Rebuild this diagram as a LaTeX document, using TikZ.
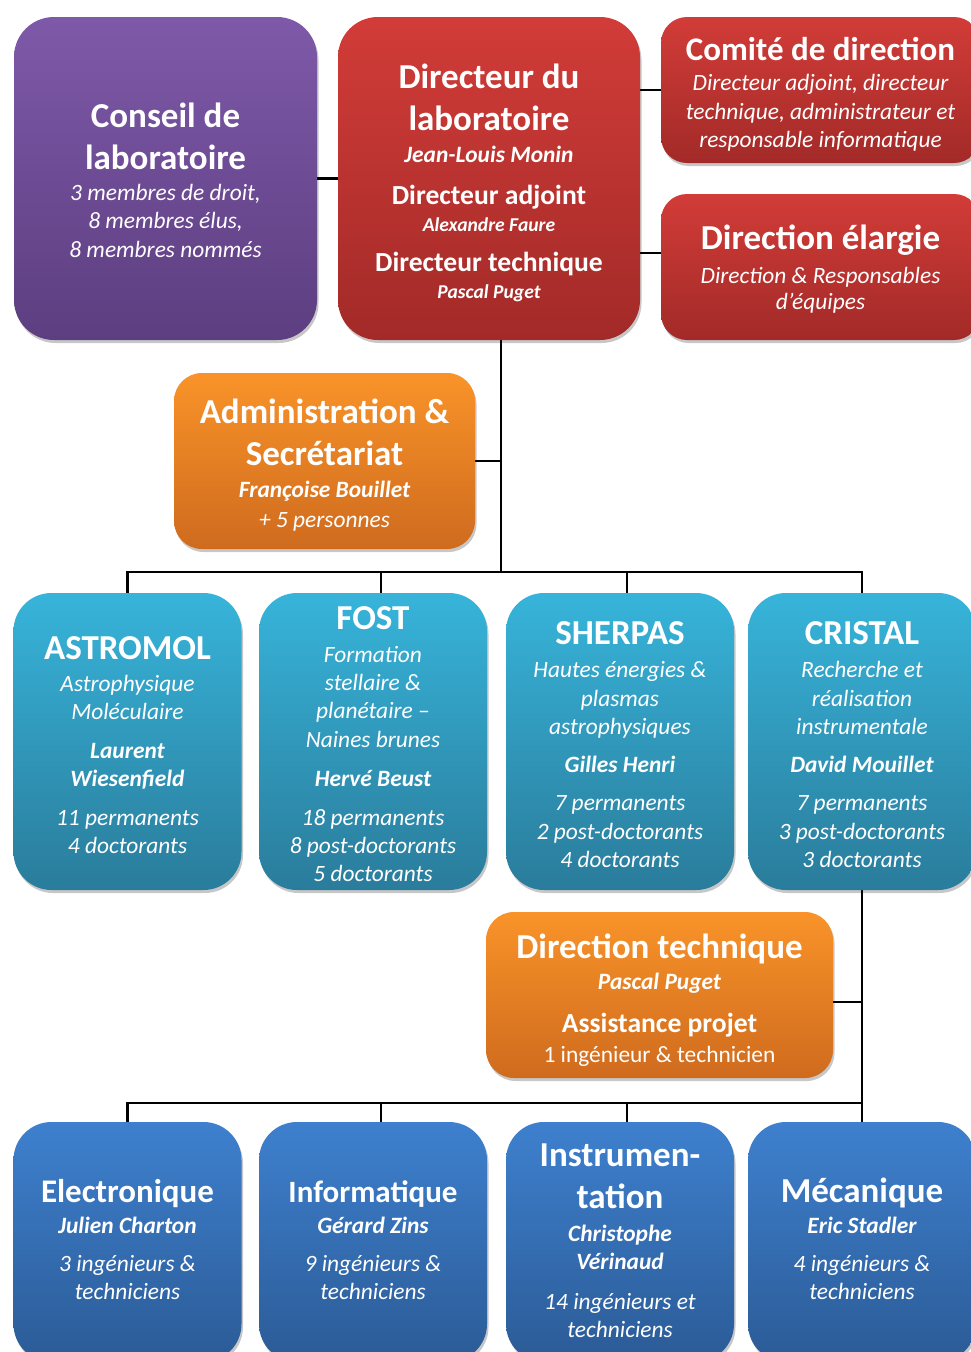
\documentclass[tikz,border=0pt]{standalone}
\usepackage{fontspec}
\setmainfont{Carlito}
\usetikzlibrary{shadows}
\pgfdeclarelayer{background}
\pgfsetlayers{background,main}
\definecolor{purT}{HTML}{7E59A9}\definecolor{purB}{HTML}{5D3E80}
\definecolor{redT}{HTML}{D23C38}\definecolor{redB}{HTML}{A22A28}
\definecolor{oraT}{HTML}{F99329}\definecolor{oraB}{HTML}{CF6B1E}
\definecolor{teaT}{HTML}{37B4DA}\definecolor{teaB}{HTML}{2A7C9B}
\definecolor{bluT}{HTML}{3E80CE}\definecolor{bluB}{HTML}{2B5B96}
\newcommand\fT{\fontsize{35}{0}\selectfont\bfseries}
\newcommand\fTa[1]{\fontsize{#1}{0}\selectfont\bfseries}
\newcommand\fS{\fontsize{27.6}{0}\selectfont\bfseries}
\newcommand\fI{\fontsize{23.4}{0}\selectfont\itshape}
\newcommand\fN{\fontsize{23.4}{0}\selectfont\bfseries\itshape}
\newcommand\fn{\fontsize{19.6}{0}\selectfont\bfseries\itshape}
\newcommand\fR{\fontsize{23.4}{0}\selectfont}
\newcommand\Lx[2]{\smash{#1#2}}
\tikzset{
  box/.style={shape=rectangle, inner sep=0pt, align=center, text=white,
    font=\fontsize{21}{0}\selectfont,
    drop shadow={shadow xshift=1.5pt, shadow yshift=-3pt, fill=black, opacity=0.22}},
  purbox/.style={box, top color=purT, bottom color=purB},
  redbox/.style={box, top color=redT, bottom color=redB},
  orabox/.style={box, top color=oraT, bottom color=oraB},
  teabox/.style={box, top color=teaT, bottom color=teaB, minimum width=228pt, minimum height=297pt, rounded corners=38pt},
  blubox/.style={box, top color=bluT, bottom color=bluB, minimum width=228pt, minimum height=240pt, rounded corners=38pt},
  conn/.style={line width=2.5pt, black}
}
\begin{document}
\begin{tikzpicture}[x=1pt,y=-1pt]
\useasboundingbox (0,0) rectangle (971,1352);
\clip (0,0) rectangle (971,1352);

\node[purbox, minimum width=303pt, minimum height=323pt, rounded corners=40pt] (cons) at (165.5,178.5)
 {\Lx{}{}\\[27pt]\Lx\fT{Conseil de}\\[42pt]\Lx\fT{laboratoire}\\[31pt]\Lx\fI{3 membres de droit,}\\[28pt]\Lx\fI{8 membres élus,}\\[29pt]\Lx\fI{8 membres nommés}};

\node[redbox, minimum width=302pt, minimum height=323pt, rounded corners=40pt] (dir) at (489,178.5)
 {\Lx{}{}\\[29pt]\Lx\fT{Directeur du}\\[42pt]\Lx\fT{laboratoire}\\[32pt]\Lx\fN{Jean-Louis Monin}\\[42pt]\Lx\fS{Directeur adjoint}\\[27pt]\Lx\fn{Alexandre Faure}\\[40pt]\Lx\fS{Directeur technique}\\[27pt]\Lx\fn{Pascal Puget}};

\node[redbox, minimum width=319pt, minimum height=146pt, rounded corners=26pt] (comite) at (820.5,90)
 {\Lx{}{}\\[27pt]\Lx{\fTa{33}}{Comité de direction}\\[30pt]\Lx\fI{Directeur adjoint, directeur}\\[29pt]\Lx\fI{technique, administrateur et}\\[28pt]\Lx\fI{responsable informatique}};

\node[redbox, minimum width=319pt, minimum height=146pt, rounded corners=26pt] (elargie) at (820.5,267)
 {\Lx{}{}\\[24pt]\Lx\fT{Direction élargie}\\[34pt]\Lx\fI{Direction \& Responsables}\\[26pt]\Lx\fI{d’équipes}};

\node[orabox, minimum width=301pt, minimum height=176pt, rounded corners=28pt] (admin) at (324.5,461)
 {\Lx{}{}\\[28pt]\Lx\fT{Administration \&}\\[42pt]\Lx\fT{Secrétariat}\\[32pt]\Lx\fN{Françoise Bouillet}\\[30pt]\Lx\fI{+ 5 personnes}};

\node[teabox] (astromol) at (127.5,741.5)
 {\Lx{}{}\\[29pt]\Lx\fT{ASTROMOL}\\[32pt]\Lx\fI{Astrophysique}\\[28pt]\Lx\fI{Moléculaire}\\[39pt]\Lx\fN{Laurent}\\[28pt]\Lx\fN{Wiesenfield}\\[39pt]\Lx\fI{11 permanents}\\[28pt]\Lx\fI{4 doctorants}};

\node[teabox] (fost) at (373,741.5)
 {\Lx{}{}\\[27pt]\Lx\fT{FOST}\\[33pt]\Lx\fI{Formation}\\[28pt]\Lx\fI{stellaire \&}\\[28pt]\Lx\fI{planétaire –}\\[29pt]\Lx\fI{Naines brunes}\\[39pt]\Lx\fN{Hervé Beust}\\[39pt]\Lx\fI{18 permanents}\\[28pt]\Lx\fI{8 post-doctorants}\\[28pt]\Lx\fI{5 doctorants}};

\node[teabox] (sherpas) at (620,741.5)
 {\Lx{}{}\\[28pt]\Lx\fT{SHERPAS}\\[33pt]\Lx\fI{Hautes énergies \&}\\[29pt]\Lx\fI{plasmas}\\[28pt]\Lx\fI{astrophysiques}\\[38pt]\Lx\fN{Gilles Henri}\\[38pt]\Lx\fI{7 permanents}\\[29pt]\Lx\fI{2 post-doctorants}\\[28pt]\Lx\fI{4 doctorants}};

\node[teabox] (cristal) at (862,741.5)
 {\Lx{}{}\\[28pt]\Lx\fT{CRISTAL}\\[33pt]\Lx\fI{Recherche et}\\[29pt]\Lx\fI{réalisation}\\[28pt]\Lx\fI{instrumentale}\\[38pt]\Lx\fN{David Mouillet}\\[38pt]\Lx\fI{7 permanents}\\[29pt]\Lx\fI{3 post-doctorants}\\[28pt]\Lx\fI{3 doctorants}};

\node[orabox, minimum width=347pt, minimum height=166pt, rounded corners=28pt] (dtech) at (659.5,995)
 {\Lx{}{}\\[30pt]\Lx\fT{Direction technique}\\[31pt]\Lx\fN{Pascal Puget}\\[43pt]\Lx\fS{Assistance projet}\\[30pt]\Lx\fR{1 ingénieur \& technicien}};

\node[blubox] (elec) at (127.5,1242)
 {\Lx{}{}\\[17pt]\Lx{\fTa{33}}{Electronique}\\[31pt]\Lx\fN{Julien Charton}\\[38pt]\Lx\fI{3 ingénieurs \&}\\[28pt]\Lx\fI{techniciens}};

\node[blubox] (info) at (373,1242)
 {\Lx{}{}\\[17pt]\Lx{\fTa{31}}{Informatique}\\[31pt]\Lx\fN{Gérard Zins}\\[38pt]\Lx\fI{9 ingénieurs \&}\\[28pt]\Lx\fI{techniciens}};

\node[blubox] (instr) at (620,1242)
 {\Lx{}{}\\[19pt]\Lx\fT{Instrumen-}\\[42pt]\Lx\fT{tation}\\[33pt]\Lx\fN{Christophe}\\[28pt]\Lx\fN{Vérinaud}\\[40pt]\Lx\fI{14 ingénieurs et}\\[28pt]\Lx\fI{techniciens}};

\node[blubox] (meca) at (862,1242)
 {\Lx{}{}\\[17pt]\Lx\fT{Mécanique}\\[31pt]\Lx\fN{Eric Stadler}\\[38pt]\Lx\fI{4 ingénieurs \&}\\[28pt]\Lx\fI{techniciens}};

\coordinate (b1) at (501,572);
\coordinate (b2) at (862,1103);
\begin{pgfonlayer}{background}
\fill[white] (0,0) rectangle (971,1352);
\draw[conn] (cons.east) -- (dir.west);
\draw[conn] (comite.west) -- (comite.west -| dir.east);
\draw[conn] ([yshift=14pt]elargie.west) -- ([yshift=14pt]elargie.west -| dir.east);
\draw[conn] (dir.south -| b1) -- (b1);
\draw[conn] (admin.east) -- (admin.east -| b1);
\draw[conn] (astromol.north) |- (b1) -| (cristal.north);
\draw[conn] ([xshift=8pt]fost.north) -- ([xshift=8pt]fost.north |- b1);
\draw[conn] ([xshift=7pt]sherpas.north) -- ([xshift=7pt]sherpas.north |- b1);
\draw[conn] (cristal.south) -- (b2);
\draw[conn] ([yshift=-7pt]dtech.east) -- ([yshift=-7pt]dtech.east -| b2);
\draw[conn] (elec.north) |- (b2) -- (meca.north);
\draw[conn] ([xshift=8pt]info.north) -- ([xshift=8pt]info.north |- b2);
\draw[conn] ([xshift=7pt]instr.north) -- ([xshift=7pt]instr.north |- b2);
\end{pgfonlayer}
\end{tikzpicture}
\end{document}
